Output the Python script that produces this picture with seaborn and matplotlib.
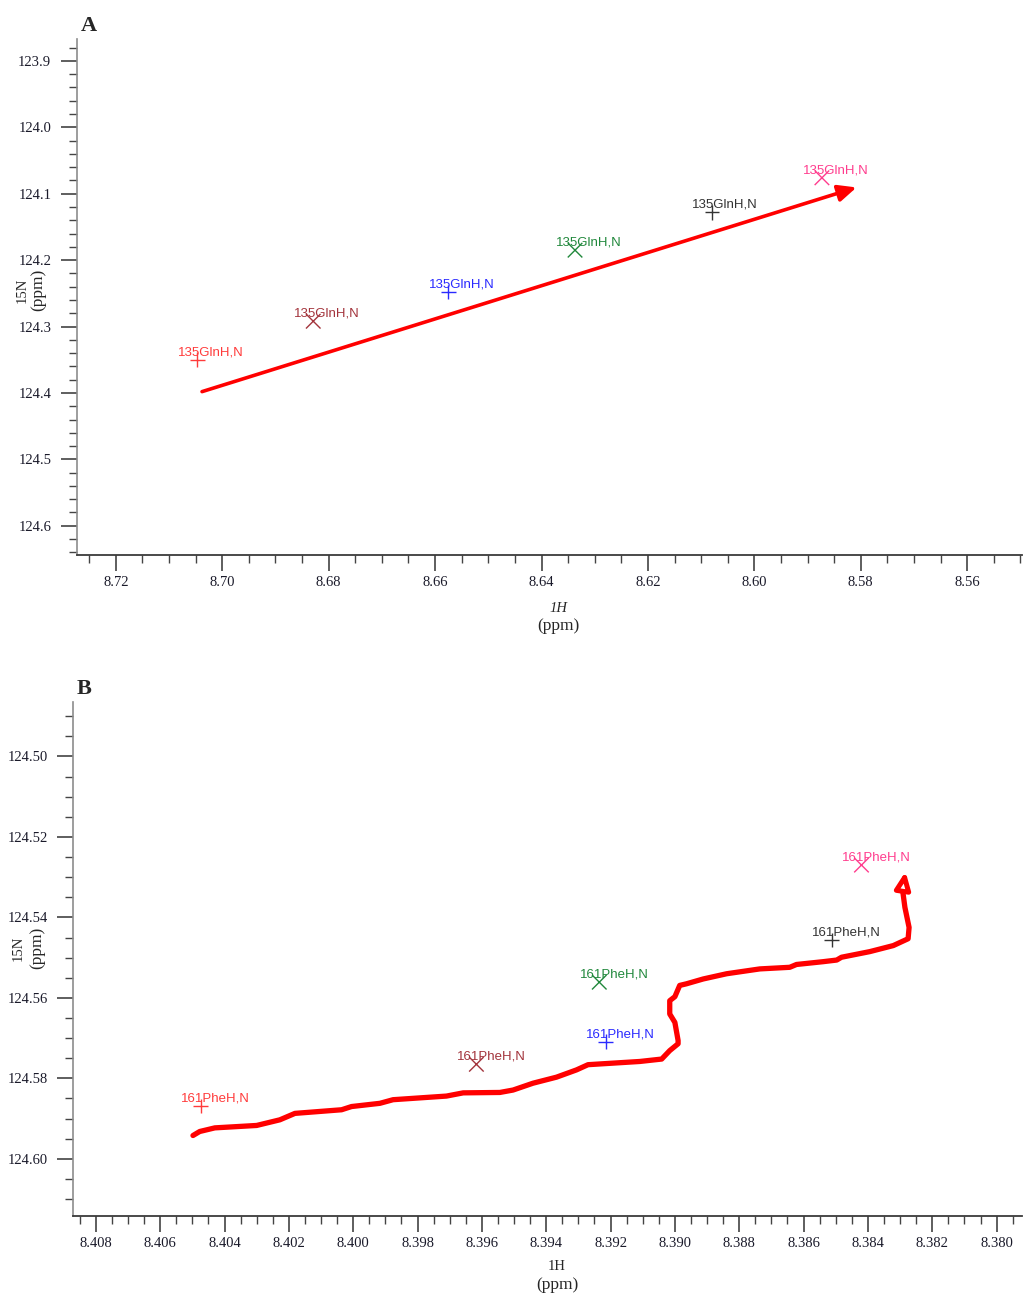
import matplotlib
matplotlib.use("Agg")
import numpy as np
import pandas as pd
import matplotlib.pyplot as plt
import matplotlib.ticker as mtick
import seaborn as sns

# ── data ─────────────────────────────────────────────────────────────────────
STATES = ["s1", "s2", "s3", "s4", "s5", "s6"]
MARKERS = ["+", "x", "+", "x", "+", "x"]
COLORS = ["#ff3b3b", "#a3343c", "#2a2aff", "#21883c", "#333333", "#ff3d8e"]

LABEL_A = "135GlnH,N"
A_H = [8.7047, 8.6829, 8.6575, 8.6337, 8.6080, 8.5873]
A_N = [124.350, 124.292, 124.248, 124.185, 124.128, 124.076]
ARROW_A_H = [8.7038, 8.5808]
ARROW_A_N = [124.398, 124.0905]

LABEL_B = "161PheH,N"
B_H = [8.40474, 8.39617, 8.39215, 8.39235, 8.38513, 8.38420]
B_N = [124.5869, 124.5765, 124.5709, 124.5561, 124.5456, 124.5270]
CURVE_B_H = [8.40498, 8.40477, 8.40430, 8.40300, 8.40228, 8.40181, 8.40036,
             8.40005, 8.39917, 8.39876, 8.39710, 8.39658, 8.39544, 8.39503,
             8.39441, 8.39368, 8.39306, 8.39270, 8.39109, 8.39041, 8.39016,
             8.38990, 8.38990, 8.39000, 8.39016, 8.39016, 8.39000, 8.38985,
             8.38964, 8.38912, 8.38839, 8.38736, 8.38643, 8.38622, 8.38539,
             8.38497, 8.38482, 8.38394, 8.38321, 8.38275, 8.38272, 8.38285,
             8.38292]
CURVE_B_N = [124.5942, 124.5932, 124.5923, 124.5917, 124.5903, 124.5887,
             124.5878, 124.5870, 124.5862, 124.5853, 124.5844, 124.5836,
             124.5835, 124.5829, 124.5812, 124.5797, 124.5779, 124.5766,
             124.5758, 124.5752, 124.5731, 124.5714, 124.5706, 124.5661,
             124.5640, 124.5607, 124.5597, 124.5569, 124.5565, 124.5553,
             124.5540, 124.5528, 124.5524, 124.5517, 124.5510, 124.5506,
             124.5499, 124.5485, 124.5470, 124.5453, 124.5425, 124.5375,
             124.5333]
ARROW_B_TIP = (8.38283, 124.5286)

sns.set_style("ticks")
plt.rcParams["font.family"] = ["Liberation Serif", "DejaVu Serif"]

W, H = 1025, 1296
fig = plt.figure(figsize=(W / 100, H / 100), dpi=100)


def px(x, y):
    return x / W, 1 - y / H


def _peaks(ax, hs, ns, label):
    df = pd.DataFrame({"h": hs, "n": ns, "state": STATES})
    sns.scatterplot(data=df, x="h", y="n", hue="state", style="state",
                    palette=dict(zip(STATES, COLORS)),
                    markers=dict(zip(STATES, MARKERS)),
                    s=110, linewidth=1.0, legend=False, ax=ax)
    for h, n, c in zip(hs, ns, COLORS):
        ax.annotate(label, (h, n), xytext=(-14, 3.3), textcoords="offset points",
                    color=c, fontsize=9.5, family=["Liberation Sans"],
                    ha="left", va="baseline")


def _axes_style(ax, xfmt, yfmt, xmaj, xmin, ymaj, ymin):
    sns.despine(ax=ax)
    ax.spines["left"].set_color("#8c8c8c")
    ax.spines["bottom"].set_color("#3a3a3a")
    ax.spines["left"].set_linewidth(1.2)
    ax.spines["bottom"].set_linewidth(1.3)
    ax.xaxis.set_major_locator(mtick.MultipleLocator(xmaj))
    ax.xaxis.set_minor_locator(mtick.MultipleLocator(xmin))
    ax.yaxis.set_major_locator(mtick.MultipleLocator(ymaj))
    ax.yaxis.set_minor_locator(mtick.MultipleLocator(ymin))
    ax.xaxis.set_major_formatter(mtick.FormatStrFormatter(xfmt))
    ax.yaxis.set_major_formatter(mtick.FormatStrFormatter(yfmt))
    ax.tick_params(which="major", length=11.5, width=1.1, color="#333333",
                   labelsize=10.5, labelcolor="#1a1a2a")
    ax.tick_params(which="minor", length=6, width=1.0, color="#444444")
    ax.tick_params(axis="x", which="major", pad=3.5)
    ax.tick_params(axis="y", which="major", pad=7)
    ax.set_xlabel("")
    ax.set_ylabel("")


# ── Panel A ──────────────────────────────────────────────────────────────────
axA = fig.add_axes([77 / W, 1 - 555 / H, (1022 - 77) / W, (555 - 39) / H])
_peaks(axA, A_H, A_N, LABEL_A)
axA.annotate("", xy=(ARROW_A_H[1], ARROW_A_N[1]), xytext=(ARROW_A_H[0], ARROW_A_N[0]),
             arrowprops=dict(arrowstyle="-|>,head_length=1.1,head_width=0.5",
                             color="#ff0000", lw=2.6, shrinkA=0, shrinkB=0))
axA.set_xlim(8.7273, 8.5497)
axA.set_ylim(124.644, 123.867)
_axes_style(axA, "%.2f", "%.1f", 0.02, 0.005, 0.1, 0.02)

fig.text(*px(89, 26), "A", fontsize=16, fontweight="bold", ha="center", va="center")
fig.text(*px(22, 290), "15N", fontsize=10.5, rotation=90, ha="center", va="center")
fig.text(*px(38, 290), "(ppm)", fontsize=12.5, rotation=90, ha="center", va="center")
fig.text(*px(558, 608), "1H", fontsize=10.5, style="italic", ha="center", va="center")
fig.text(*px(558, 626), "(ppm)", fontsize=12.5, ha="center", va="center")

# ── Panel B ──────────────────────────────────────────────────────────────────
axB = fig.add_axes([73.3 / W, 1 - 1216 / H, (1022 - 73.3) / W, (1216 - 701.7) / H])
_peaks(axB, B_H, B_N, LABEL_B)
sns.lineplot(x=CURVE_B_H, y=CURVE_B_N, sort=False, estimator=None,
             color="#ff0000", linewidth=3.8, ax=axB, solid_capstyle="round",
             solid_joinstyle="round")
axB.annotate("", xy=ARROW_B_TIP, xytext=(CURVE_B_H[-1], CURVE_B_N[-1]),
             arrowprops=dict(arrowstyle="-|>,head_length=1.0,head_width=0.45",
                             fc="white", ec="#ff0000", lw=3.6, shrinkA=0, shrinkB=0,
                             joinstyle="round"))
axB.set_xlim(8.4087, 8.37921)
axB.set_ylim(124.6142, 124.4864)
_axes_style(axB, "%.3f", "%.2f", 0.002, 0.0005, 0.02, 0.005)

fig.text(*px(84.5, 689.5), "B", fontsize=16, fontweight="bold", ha="center", va="center")
fig.text(*px(18, 948), "15N", fontsize=10.5, rotation=90, ha="center", va="center")
fig.text(*px(37, 948), "(ppm)", fontsize=12.5, rotation=90, ha="center", va="center")
fig.text(*px(557, 1267), "1H", fontsize=10.5, ha="center", va="center")
fig.text(*px(557, 1285), "(ppm)", fontsize=12.5, ha="center", va="center")

fig.savefig("out.png", dpi=100)
plt.close(fig)
